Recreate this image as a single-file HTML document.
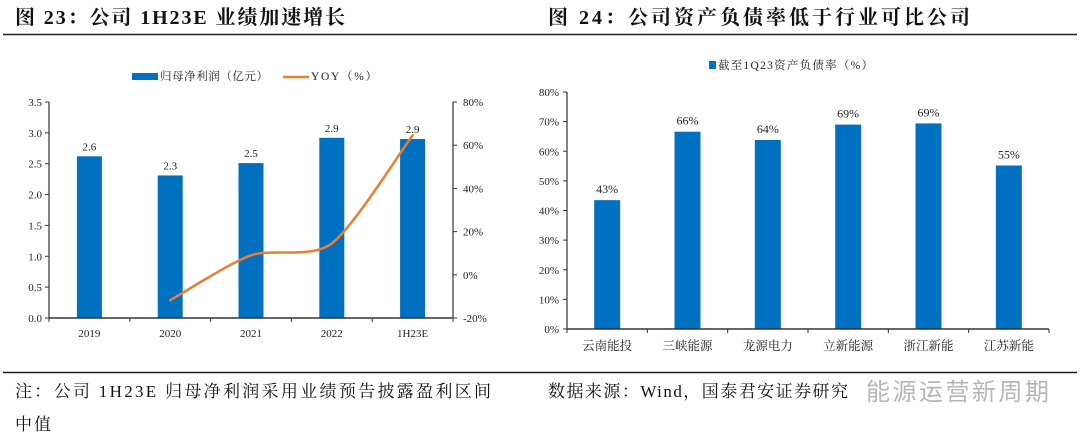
<!DOCTYPE html>
<html><head><meta charset="utf-8">
<style>
html,body{margin:0;padding:0;background:#fff;}
body{width:1080px;height:436px;overflow:hidden;position:relative;}
svg{position:absolute;left:0;top:0;}
.serif{font-family:"Liberation Serif","Noto Serif CJK SC",serif;}
.cjk{font-family:"Liberation Serif","Noto Serif CJK SC",serif;}
</style></head>
<body>
<svg id="svg" width="1080" height="436" viewBox="0 0 1080 436">
  <text x="15" y="24" font-size="20" font-weight="bold" class="cjk" fill="#111" textLength="330" lengthAdjust="spacing">图 23：公司 1H23E 业绩加速增长</text>
  <text x="548" y="24" font-size="20" font-weight="bold" class="cjk" fill="#111" textLength="422" lengthAdjust="spacing">图 24：公司资产负债率低于行业可比公司</text>
  <line x1="3" y1="34.5" x2="1077" y2="34.5" stroke="#222" stroke-width="1.5"/>
  <line x1="3" y1="372.5" x2="1077" y2="372.5" stroke="#222" stroke-width="1.5"/>
  <text x="15" y="397" font-size="17" class="cjk" fill="#111" textLength="476" lengthAdjust="spacing">注：公司 1H23E 归母净利润采用业绩预告披露盈利区间</text>
  <text x="15" y="430" font-size="17" class="cjk" fill="#111" textLength="36" lengthAdjust="spacing">中值</text>
  <text x="548" y="397" font-size="17" class="cjk" fill="#111" textLength="300" lengthAdjust="spacing">数据来源：Wind，国泰君安证券研究</text>
  <text x="866" y="400" font-size="24" font-family="'Noto Sans CJK SC',sans-serif" fill="#aaa" opacity="0.85" textLength="183" lengthAdjust="spacing">能源运营新周期</text>
  <g id="left"></g>
  <g id="right"></g>
</svg>
<script>
const leftCategories = ['2019','2020','2021','2022','1H23E'];
const profitValues = [2.62, 2.31, 2.51, 2.92, 2.90];
const profitLabels = ['2.6','2.3','2.5','2.9','2.9'];
const yoyCategories = ['2020','2021','2022','1H23E'];
const yoyValues = [-11.8, 9, 14.5, 64.6];
const leftTicks = [0,0.5,1,1.5,2,2.5,3,3.5];
const rightTicks = [-20,0,20,40,60,80];

const rCategories = ['云南能投','三峡能源','龙源电力','立新能源','浙江新能','江苏新能'];
const debtValues = [43.5, 66.6, 63.8, 69.0, 69.4, 55.2];
const debtLabels = ['43%','66%','64%','69%','69%','55%'];
const debtTicks = [0,10,20,30,40,50,60,70,80];

const NS='http://www.w3.org/2000/svg';
function mk(parent, tag, attrs, text){
  const e=document.createElementNS(NS,tag);
  for(const k in attrs) e.setAttribute(k, attrs[k]);
  if(text!==undefined) e.textContent=text;
  parent.appendChild(e); return e;
}
const BLUE='#0070C0', ORANGE='#ED7D31', AX='#333';

// ---- left chart ----
(function(){
  const g=document.getElementById('left');
  const x0=49, x1=453, yTop=102, yBot=318;
  const bw=(x1-x0)/leftCategories.length;
  const yL=v=>yBot-(v/3.5)*(yBot-yTop);
  const yR=v=>yBot-((v+20)/100)*(yBot-yTop);
  const xC=i=>x0+bw*(i+0.5);
  const lr=mk(g,'rect',{x:132,y:73,width:26,height:7,fill:BLUE});
  
  
  const lt=mk(g,'text',{x:160,y:80,'font-size':11.5,class:'cjk',fill:'#222',textLength:108,lengthAdjust:'spacing'},'归母净利润（亿元）');
  
  
  const ll=mk(g,'line',{x1:283,y1:77,x2:309,y2:77,stroke:ORANGE,'stroke-width':2.5});
  
  
  const lt2=mk(g,'text',{x:311,y:80,'font-size':11.5,class:'cjk',fill:'#222',textLength:66,lengthAdjust:'spacing'},'YOY（%）');
  
  
  profitValues.forEach((v,i)=>{
    const r=mk(g,'rect',{x:xC(i)-12.5,y:yL(v),width:25,height:yBot-yL(v),fill:BLUE});
    
    
    const t=mk(g,'text',{x:xC(i),y:yL(v)-6,'font-size':11,'text-anchor':'middle',class:'serif',fill:'#222'},profitLabels[i]);
    
    
  });
  const ya=mk(g,'line',{x1:x0,y1:yTop,x2:x0,y2:yBot,stroke:AX,'stroke-width':1.2});
  
  
  const yb=mk(g,'line',{x1:x1,y1:yTop,x2:x1,y2:yBot,stroke:AX,'stroke-width':1.2});
  
  
  const xa=mk(g,'line',{x1:x0,y1:yBot,x2:x1,y2:yBot,stroke:AX,'stroke-width':1.5});
  
  
  leftTicks.forEach(v=>{
    mk(g,'line',{x1:x0-4,y1:yL(v),x2:x0,y2:yL(v),stroke:AX});
    const t=mk(g,'text',{x:x0-7,y:yL(v)+4,'font-size':11,'text-anchor':'end',class:'serif',fill:'#222'},v.toFixed(1));
    
    
  });
  rightTicks.forEach(v=>{
    mk(g,'line',{x1:x1,y1:yR(v),x2:x1+4,y2:yR(v),stroke:AX});
    const t=mk(g,'text',{x:x1+10,y:yR(v)+4,'font-size':11,class:'serif',fill:'#222'},v+'%');
    
    
  });
  for(let i=0;i<=leftCategories.length;i++){
    mk(g,'line',{x1:x0+bw*i,y1:yBot,x2:x0+bw*i,y2:yBot+4,stroke:AX});
  }
  leftCategories.forEach((c,i)=>{
    const t=mk(g,'text',{x:xC(i),y:yBot+19,'font-size':11,'text-anchor':'middle',class:'serif',fill:'#222'},c);
    
    
  });
  const pts=yoyCategories.map((c,k)=>[xC(leftCategories.indexOf(c)), yR(yoyValues[k])]);
  let d='M'+pts[0][0]+','+pts[0][1];
  for(let i=0;i<pts.length-1;i++){
    const p0=pts[i-1]||pts[i], p1=pts[i], p2=pts[i+1], p3=pts[i+2]||p2;
    const t=0.13;
    const c1=[p1[0]+(p2[0]-p0[0])*t, p1[1]+(p2[1]-p0[1])*t];
    const c2=[p2[0]-(p3[0]-p1[0])*t, p2[1]-(p3[1]-p1[1])*t];
    d+=' C'+c1.join(',')+' '+c2.join(',')+' '+p2.join(',');
  }
  const pl=mk(g,'path',{d:d,fill:'none',stroke:ORANGE,'stroke-width':2.5,'stroke-linecap':'round'});
  
  
})();

// ---- right chart ----
(function(){
  const g=document.getElementById('right');
  const x0=567, x1=1049, yTop=92, yBot=329;
  const bw=(x1-x0)/rCategories.length;
  const y=v=>yBot-(v/80)*(yBot-yTop);
  const xC=i=>x0+bw*(i+0.5);
  const lr=mk(g,'rect',{x:709,y:61,width:7,height:8,fill:BLUE});
  
  
  const lt=mk(g,'text',{x:718,y:69,'font-size':11.5,class:'cjk',fill:'#222',textLength:155,lengthAdjust:'spacing'},'截至1Q23资产负债率（%）');
  
  
  debtValues.forEach((v,i)=>{
    const r=mk(g,'rect',{x:xC(i)-13,y:y(v),width:26,height:yBot-y(v),fill:BLUE});
    
    
    const t=mk(g,'text',{x:xC(i),y:y(v)-7,'font-size':12,'text-anchor':'middle',class:'serif',fill:'#222'},debtLabels[i]);
    
    
  });
  const ya=mk(g,'line',{x1:x0,y1:yTop,x2:x0,y2:yBot,stroke:AX,'stroke-width':1.2});
  
  
  const xa=mk(g,'line',{x1:x0,y1:yBot,x2:x1,y2:yBot,stroke:AX,'stroke-width':1.5});
  
  
  debtTicks.forEach(v=>{
    mk(g,'line',{x1:x0-4,y1:y(v),x2:x0,y2:y(v),stroke:AX});
    const t=mk(g,'text',{x:x0-8,y:y(v)+4,'font-size':11,'text-anchor':'end',class:'serif',fill:'#222'},v+'%');
    
    
  });
  for(let i=0;i<=rCategories.length;i++){
    mk(g,'line',{x1:x0+bw*i,y1:yBot,x2:x0+bw*i,y2:yBot+4,stroke:AX});
  }
  rCategories.forEach((c,i)=>{
    const t=mk(g,'text',{x:xC(i),y:yBot+21,'font-size':12.5,'text-anchor':'middle',class:'cjk',fill:'#222'},c);
    
    
  });
})();
</script>
</body></html>
